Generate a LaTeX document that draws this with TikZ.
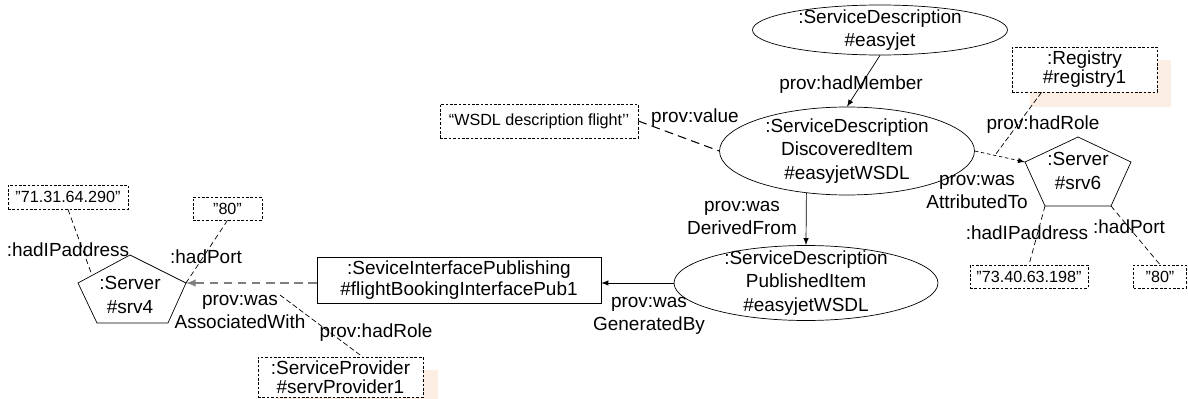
\documentclass[tikz,border=0pt]{standalone}
\usepackage{fontspec}
\setmainfont{Liberation Sans}
\usetikzlibrary{shapes.geometric}

\definecolor{peach}{HTML}{FDEEE3}
\definecolor{assocgray}{HTML}{7F7F7F}

\tikzset{
  every node/.style={font=\fontsize{10.8}{13.3}\selectfont},
  sdesc/.style={ellipse, draw, inner sep=0pt},
  actbox/.style={rectangle, draw, inner sep=0pt, align=center,
    font=\fontsize{10.8}{12.2}\selectfont},
  agentbox/.style={rectangle, draw, fill=white, inner sep=0pt, align=center,
    dash pattern=on 1.5pt off 1pt, font=\fontsize{10.8}{10.8}\selectfont},
  litbox/.style={rectangle, draw, fill=white, inner sep=0pt,
    dash pattern=on 1.5pt off 1pt, font=\fontsize{9.2}{11}\selectfont},
  elabel/.style={align=center, inner sep=0pt},
  pent/.style={draw},
  assoc/.style={->, assocgray, line width=0.9pt, dash pattern=on 5pt off 3pt},
  attr/.style={->, dash pattern=on 2pt off 1.5pt},
  valline/.style={line width=0.6pt, dash pattern=on 5pt off 3pt},
  roleline/.style={dash pattern=on 3pt off 1.5pt},
  propline/.style={dash pattern=on 3pt off 2pt}
}

\begin{document}
\begin{tikzpicture}[x=0.02cm, y=-0.02cm, >=latex]
\useasboundingbox (0,0) rectangle (1188,399);

% shadows behind the agent boxes
\fill[peach] (1030,60) rectangle (1171,107);
\fill[peach] (276,370) rectangle (438,399);

% Service descriptions
\node[sdesc, minimum width=5.1cm, minimum height=1cm,
  label={[elabel]center:{:ServiceDescription\\\#easyjet}}] (easyjet) at (880,30) {};
\node[sdesc, minimum width=5.1cm, minimum height=1.76cm,
  label={[elabel]center:{:ServiceDescription\\DiscoveredItem\\\#easyjetWSDL}}] (discovered) at (847,151) {};
\node[sdesc, minimum width=5.28cm, minimum height=1.5cm,
  label={[elabel]center:{:ServiceDescription\\PublishedItem\\\#easyjetWSDL}}] (published) at (806,283) {};

% Activity
\node[actbox, minimum width=5.68cm, minimum height=0.92cm] (publishing) at (459,280)
  {:SeviceInterfacePublishing\\\#flightBookingInterfacePub1};

% Agents and values
\node[agentbox, minimum width=2.9cm, minimum height=0.9cm] (registry) at (1084.5,69.5) {:Registry\\\#registry1};
\node[agentbox, minimum width=3.3cm, minimum height=0.8cm] (provider) at (340.5,377) {:ServiceProvider\\\#servProvider1};
\node[litbox, minimum width=3.96cm, minimum height=0.68cm] (wsdl) at (539,121) {“WSDL description flight’’};
\node[litbox, minimum width=2.36cm, minimum height=0.46cm] (ip6) at (1029,276.5) {”73.40.63.198”};
\node[litbox, minimum width=1.06cm, minimum height=0.46cm] (port6) at (1160,276.5) {”80”};
\node[litbox, minimum width=2.4cm, minimum height=0.48cm] (ip4) at (68,197) {”71.31.64.290”};
\node[litbox, minimum width=1.38cm, minimum height=0.46cm] (port4) at (227.5,208.5) {”80”};

% Servers
\draw[pent] (78,283) coordinate (s4l) -- coordinate[pos=0.27] (s4ip) (130,255) coordinate (s4t)
  -- (186,283) coordinate (s4r) -- (168,323) coordinate (s4br) -- (97,323) coordinate (s4bl) -- cycle;
\node[elabel] (srv4) at (130,295) {:Server\\\#srv4};
\draw[pent] (1025,162) coordinate (s6l) -- (1078,137) coordinate (s6t)
  -- (1131,162) coordinate (s6r) -- (1111,206) coordinate (s6br) -- (1045,206) coordinate (s6bl) -- cycle;
\node[elabel] (srv6) at (1078,171) {:Server\\\#srv6};

% Relations
\draw[->] (easyjet.south) -- (discovered.north);
\node[elabel] (hadmember) at (851,85) {prov:hadMember};
\draw[->] (discovered.226) -- (published.north);
\node[elabel] (derived) at (742,218) {prov:was\\DerivedFrom};
\draw[->] (published.west) -- (published.west -| publishing.east);
\node[elabel] (generated) at (649,316) {prov:was\\GeneratedBy};
\draw[valline] (wsdl.east) -- (discovered.west);
\node[elabel] (value) at (695,118) {prov:value};

% srv6 side
\draw[attr] (discovered.east) -- coordinate[pos=0.4] (role6) (s6l);
\node[elabel] (attributed) at (977,192) {prov:was\\AttributedTo};
\draw[roleline] (registry.208) -- (role6);
\node[elabel] (hadrole6) at (1043,125) {prov:hadRole};
\draw[propline] (s6bl) -- (ip6.north);
\node[elabel] (hadip6) at (1027,233) {:hadIPaddress};
\draw[propline] (s6br) -- (port6.north);
\node[elabel] (hadport6) at (1129,227) {:hadPort};

% srv4 side
\draw[assoc] (s4r -| publishing.west) -- (s4r);
\node[elabel] (associated) at (240,312) {prov:was\\AssociatedWith};
\coordinate (role4) at (280,295);
\draw[roleline] (role4) -- (provider.43);
\node[elabel] (hadrole4) at (376,333) {prov:hadRole};
\draw[propline] (ip4.south) -- (s4ip);
\node[elabel] (hadip4) at (68,250) {:hadIPaddress};
\draw[propline] (port4.south) -- (s4r);
\node[elabel] (hadport4) at (206,257) {:hadPort};

\end{tikzpicture}
\end{document}
